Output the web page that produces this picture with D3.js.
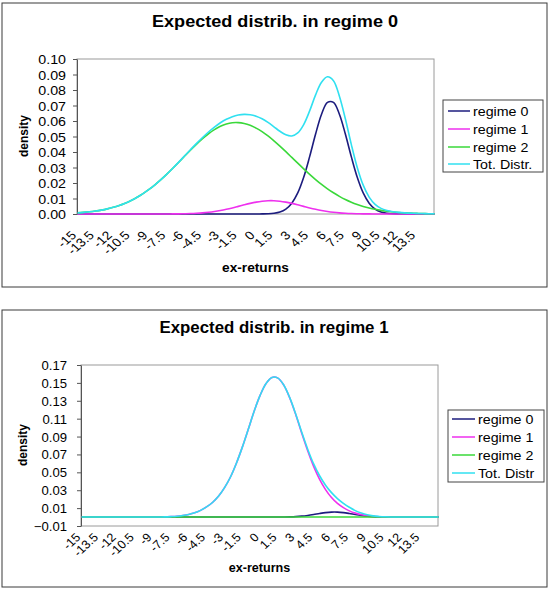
<!DOCTYPE html>
<html>
<head>
<meta charset="utf-8">
<script src="https://cdn.jsdelivr.net/npm/d3@7"></script>
<style>
  body { margin: 0; background: #fff; }
  svg text { font-family: "Liberation Sans", Arial, sans-serif; fill: #000; }
</style>
</head>
<body>
<svg id="chart" width="549" height="595"></svg>
<script>
// ex-returns grid (categories)
const returns = [-15,-14.5,-14,-13.5,-13,-12.5,-12,-11.5,-11,-10.5,-10,-9.5,-9,-8.5,-8,-7.5,-7,-6.5,-6,-5.5,
  -5,-4.5,-4,-3.5,-3,-2.5,-2,-1.5,-1,-0.5,0,0.5,1,1.5,2,2.5,3,3.5,4,4.5,
  5,5.5,6,6.5,7,7.5,8,8.5,9,9.5,10,10.5,11,11.5,12,12.5,13,13.5,14,14.5,15];

const xTickValues = [-15,-13.5,-12,-10.5,-9,-7.5,-6,-4.5,-3,-1.5,0,1.5,3,4.5,6,7.5,9,10.5,12,13.5];
const xTickLabels = ["-15","-13.5","-12","-10.5","-9","-7.5","-6","-4.5","-3","-1.5","0","1.5","3","4.5","6","7.5","9","10.5","12","13.5"];

const yTicksTop = [0,0.01,0.02,0.03,0.04,0.05,0.06,0.07,0.08,0.09,0.10];
const yTicksBottom = [-0.01,0.01,0.03,0.05,0.07,0.09,0.11,0.13,0.15,0.17];

const seriesColors = ["#1c1c7e", "#ee30ee", "#3ad83a", "#30e0f0"];

// --- Expected distrib. in regime 0 ---
const top_regime0 = [0,0,0,0,0,0,0,0,0,0,0,0,0,0,0,0,0,0,0,0,
  0,0,0,0,0,0,0,0,0,0,0,0.00005,0.00016,0.00049,0.0013,0.0032,0.0070,0.0136,0.0237,0.0370,
  0.0516,0.0644,0.0720,0.0720,0.0644,0.0516,0.0370,0.0237,0.0136,0.0070,0.0032,0.0013,0.0005,0.00016,0.00005,0,0,0,0,0,0];
const top_regime1 = [0,0,0,0,0,0,0,0,0,0,0,0,0,0,0,0.00003,0.00006,0.0001,0.00018,0.00029,
  0.00048,0.00074,0.00112,0.00162,0.00226,0.00304,0.00393,0.00491,0.00591,0.00685,0.00766,0.00825,0.00856,0.00856,0.00825,0.00766,0.00685,0.00591,0.00491,0.00393,
  0.00304,0.00226,0.00162,0.00112,0.00074,0.00048,0.00029,0.00018,0.0001,0.00006,0.00003,0,0,0,0,0,0,0,0,0,0];
const top_regime2 = [0.00075,0.00103,0.00141,0.00190,0.00252,0.00331,0.00429,0.00551,0.00697,0.00872,0.01077,0.01313,0.01582,0.01883,0.02214,0.02571,0.02949,0.03340,0.03738,0.04131,
  0.04509,0.04862,0.05178,0.05446,0.05659,0.05807,0.05887,0.05895,0.05837,0.05718,0.05541,0.05311,0.05035,0.04722,0.04381,0.04021,0.03650,0.03278,0.02912,0.02558,
  0.02224,0.01912,0.01626,0.01368,0.01139,0.00937,0.00763,0.00615,0.00490,0.00386,0.00301,0.00232,0.00177,0.00134,0.00100,0.00074,0.00054,0.00039,0.00028,0.00020,0.00014];
const top_total = [0.00075,0.00103,0.00141,0.0019,0.00252,0.00331,0.00429,0.00551,0.00697,0.00872,0.01077,0.01313,0.01582,0.01883,0.02214,0.02574,0.02955,0.0335,0.03756,0.0416,
  0.04557,0.04936,0.0529,0.05608,0.05885,0.06111,0.0628,0.06386,0.06428,0.06403,0.06307,0.06141,0.05907,0.05627,0.05338,0.05107,0.05035,0.05229,0.05773,0.06651,
  0.07688,0.0850,0.0885,0.0860,0.0760,0.06145,0.04492,0.03003,0.0186,0.01092,0.00624,0.00362,0.00227,0.0015,0.00105,0.00074,0.00054,0.00039,0.00028,0.0002,0.00014];

// --- Expected distrib. in regime 1 ---
const bot_regime0 = [0,0,0,0,0,0,0,0,0,0,0,0,0,0,0,0,0,0,0,0,
  0,0,0,0,0,0,0,0,0,0,0,0,0,0,0.0001,0.00025,0.00053,0.00104,0.00182,0.00283,
  0.00396,0.00494,0.00552,0.00552,0.00494,0.00396,0.00283,0.00182,0.00104,0.00053,0.00025,0.0001,0.00004,0,0,0,0,0,0,0,0];
const bot_regime1 = [0,0,0,0,0,0,0,0,0,0,0,0,0,0.0001,0.0002,0.0005,0.0009,0.0017,0.0029,0.0047,
  0.0075,0.0113,0.0163,0.0232,0.0326,0.0445,0.0599,0.0779,0.0979,0.1183,0.1360,0.1493,0.1561,0.1553,0.1473,0.1329,0.1144,0.0937,0.0741,0.0566,
  0.0422,0.0307,0.0218,0.0152,0.0105,0.0069,0.0044,0.0027,0.0015,0.0008,0.0004,0.0002,0.0001,0,0,0,0,0,0,0,0];
const bot_regime2 = [0,0,0,0,0,0,0,0,0,0,0,0,0,0,0,0,0,0,0,0,
  0,0,0,0,0,0,0,0,0,0,0,0,0,0,0,0,0,0,0,0,
  0,0,0,0,0,0,0,0,0,0,0,0,0,0,0,0,0,0,0,0,0];
const bot_total = [0,0,0,0,0,0,0,0,0,0,0,0,0,0.0001,0.0002,0.0005,0.0009,0.0017,0.0029,0.0047,
  0.0075,0.0113,0.0163,0.0232,0.0326,0.0445,0.0599,0.0779,0.0979,0.1183,0.1360,0.1493,0.1561,0.1553,0.1474,0.1332,0.1149,0.0947,0.0759,0.0594,
  0.0462,0.0356,0.0273,0.0207,0.0154,0.0109,0.0072,0.0045,0.0025,0.0013,0.0007,0.0003,0.0001,0,0,0,0,0,0,0,0];

const svg = d3.select("#chart");

function drawPanel(p) {
  const g = svg.append("g");

  // outer frame
  g.append("rect")
    .attr("x", p.box[0]).attr("y", p.box[1])
    .attr("width", p.box[2] - p.box[0]).attr("height", p.box[3] - p.box[1])
    .attr("fill", "#fff").attr("stroke", "#3a3a3a").attr("stroke-width", 1);

  // title
  g.append("text")
    .attr("x", p.titleX).attr("y", p.titleY)
    .attr("text-anchor", "middle")
    .attr("font-size", 16).attr("font-weight", "bold")
    .attr("textLength", p.titleLen).attr("lengthAdjust", "spacingAndGlyphs")
    .text(p.title);

  const x = d3.scaleLinear().domain([-15.05, 14.95]).range([p.left, p.right]);
  const y = d3.scaleLinear().domain(p.yDomain).range([p.bottom, p.top]);

  // plot area border
  g.append("rect")
    .attr("x", p.left).attr("y", p.top)
    .attr("width", p.right - p.left).attr("height", p.bottom - p.top)
    .attr("fill", "none").attr("stroke", "#9a9a9a").attr("stroke-width", 1);

  // y axis
  const yAxis = g.append("g")
    .attr("transform", `translate(${p.left},0)`)
    .attr("color", "#555")
    .call(d3.axisLeft(y).tickValues(p.yTicks).tickFormat(d3.format(".2f")).tickSize(4).tickSizeOuter(0));
  yAxis.selectAll("text")
    .attr("x", 0)
    .attr("dy", "0.36em")
    .attr("font-size", 12.5)
    .attr("transform", `translate(${-p.labelGap},0) scale(${p.sx},1)`);

  // x axis (category labels only)
  const xAxis = g.append("g")
    .attr("transform", `translate(0,${p.bottom})`)
    .call(d3.axisBottom(x).tickValues(xTickValues).tickFormat((d, i) => xTickLabels[i]).tickSize(0));
  xAxis.select(".domain").remove();
  xAxis.selectAll("text")
    .attr("x", 0).attr("y", 0).attr("dy", 0)
    .attr("text-anchor", "end")
    .attr("font-size", 12)
    .attr("transform", `translate(-1,${p.xLabelOffset}) scale(${p.sx},1) rotate(-45)`);

  // axis titles
  g.append("text")
    .attr("transform", `translate(${(p.left + p.right) / 2},${p.xTitleY}) scale(${p.sx},1)`)
    .attr("text-anchor", "middle").attr("dy", "0.35em")
    .attr("font-size", 12).attr("font-weight", "bold")
    .text("ex-returns");
  g.append("text")
    .attr("transform", `translate(${p.yTitleX},${p.yTitleY}) scale(${p.sx},1) rotate(-90)`)
    .attr("text-anchor", "middle").attr("dy", "0.35em")
    .attr("font-size", 12).attr("font-weight", "bold")
    .text("density");

  // curves
  const line = d3.line()
    .x((d, i) => x(returns[i]))
    .y(d => y(d))
    .curve(d3.curveCatmullRom.alpha(0.5));

  p.series.forEach((s, k) => {
    g.append("path")
      .datum(s)
      .attr("fill", "none")
      .attr("stroke", seriesColors[k])
      .attr("stroke-width", 1.6)
      .attr("d", line);
  });

  // legend
  const L = p.legend;
  g.append("rect")
    .attr("x", L.x0).attr("y", L.y0)
    .attr("width", L.x1 - L.x0).attr("height", L.y1 - L.y0)
    .attr("fill", "#fff").attr("stroke", "#444").attr("stroke-width", 1);
  p.names.forEach((name, k) => {
    const cy = L.rowY[k];
    g.append("line")
      .attr("x1", L.lineX0).attr("x2", L.lineX1)
      .attr("y1", cy).attr("y2", cy)
      .attr("stroke", seriesColors[k]).attr("stroke-width", 1.5);
    g.append("text")
      .attr("transform", `translate(${L.textX},${cy}) scale(1.14,1)`)
      .attr("dy", "0.36em")
      .attr("font-size", 12.5)
      .text(name);
  });
}

drawPanel({
  box: [2, 3, 547, 287],
  title: "Expected distrib. in regime 0", titleX: 275, titleY: 27, titleLen: 246,
  left: 77, right: 434, top: 59, bottom: 214,
  yDomain: [0, 0.10], yTicks: yTicksTop, labelGap: 11, sx: 1.14,
  xLabelOffset: 22, xTitleY: 268, yTitleX: 23, yTitleY: 136,
  series: [top_regime0, top_regime1, top_regime2, top_total],
  names: ["regime 0", "regime 1", "regime 2", "Tot. Distr."],
  legend: { x0: 443, y0: 100, x1: 543, y1: 172, rowY: [111, 129, 147, 164], lineX0: 448, lineX1: 470, textX: 473 }
});

drawPanel({
  box: [2, 310, 547, 587],
  title: "Expected distrib. in regime 1", titleX: 274, titleY: 333, titleLen: 229,
  left: 81, right: 438, top: 365, bottom: 526,
  yDomain: [-0.01, 0.17], yTicks: yTicksBottom, labelGap: 14, sx: 1.05,
  xLabelOffset: 12, xTitleY: 568, yTitleX: 23, yTitleY: 445,
  series: [bot_regime0, bot_regime1, bot_regime2, bot_total],
  names: ["regime 0", "regime 1", "regime 2", "Tot. Distr"],
  legend: { x0: 448, y0: 410, x1: 544, y1: 482, rowY: [419, 437, 455, 473], lineX0: 452, lineX1: 475, textX: 478 }
});
</script>
</body>
</html>
